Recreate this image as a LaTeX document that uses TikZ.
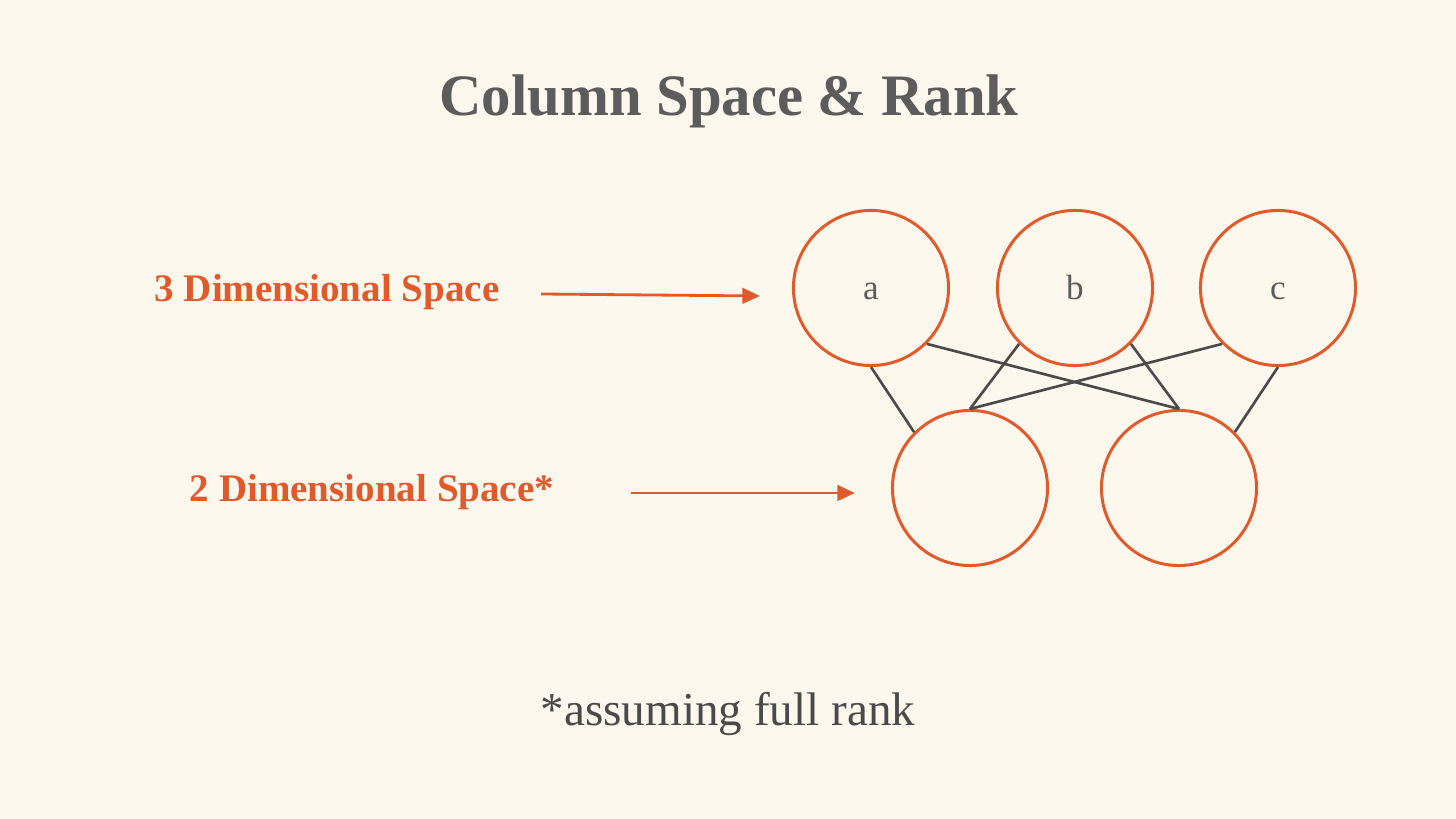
\documentclass[tikz,border=0pt]{standalone}
\usepackage{fontspec}
\setmainfont{Liberation Serif}
\usepackage{tikz}
\usetikzlibrary{arrows.meta, positioning}
\definecolor{slidebg}{HTML}{FCF8EE}
\definecolor{rustorange}{HTML}{E05A2B}
\definecolor{inkgray}{HTML}{5C5C5C}
\definecolor{edgegray}{HTML}{4A4A4A}
\tikzset{
  spcnode/.style={circle,draw=rustorange,line width=0.85pt,minimum size=1.55cm,inner sep=0pt,
    font=\fontsize{10}{12}\selectfont,text=inkgray,text height=6.5pt,text depth=0pt},
  dimlabel/.style={text=rustorange,font=\fontsize{11.1}{13}\selectfont\bfseries,inner sep=0pt},
  ptr/.style={-{Triangle[length=5pt,width=4.4pt]},line width=0.8pt,rustorange},
  linkedge/.style={line width=0.75pt,edgegray},
}

\begin{document}
\begin{tikzpicture}[x=0.01cm,y=-0.01cm]
  % ---- slide background, 1px = 0.01cm ----
  \fill[slidebg] (0,0) rectangle (1456,819);
  \useasboundingbox (0,0) rectangle (1456,819);
  \node[text=inkgray,font=\fontsize{16.7}{20}\selectfont\bfseries] (title) at (729,101) {Column Space \& Rank};
  % ---- upper row: the three columns ----
  \node[spcnode] (a) at (871,288) {a};
  \node[spcnode] (b) at (1075,288) {b};
  \node[spcnode] (c) at (1278,288) {c};
  % ---- lower row ----
  \node[spcnode] (l) at (970,488) {};
  \node[spcnode] (r) at (1179,488) {};
  \draw[linkedge] (a.south) -- (l.135);
  \draw[linkedge] (a.-45) -- (r.north);
  \draw[linkedge] (b.-135) -- (l.north);
  \draw[linkedge] (b.-45) -- (r.north);
  \draw[linkedge] (c.-135) -- (l.north);
  \draw[linkedge] (c.south) -- (r.45);
  % ---- labels on the left ----
  \node[dimlabel] (three) at (327,292) {3 Dimensional Space};
  \node[dimlabel] (two) at (372,492) {2 Dimensional Space*};
  \coordinate (threetail) at (541,294);
  \coordinate (threetip) at (760,296);
  \coordinate (twotail) at (631,493);
  \coordinate (twotip) at (855,493);
  \draw[ptr] (threetail) -- (threetip);
  \draw[ptr] (twotail) -- (twotip);
  \node[text=edgegray,font=\fontsize{13.4}{16}\selectfont] (note) at (728,714) {*assuming full rank};
\end{tikzpicture}
\end{document}
